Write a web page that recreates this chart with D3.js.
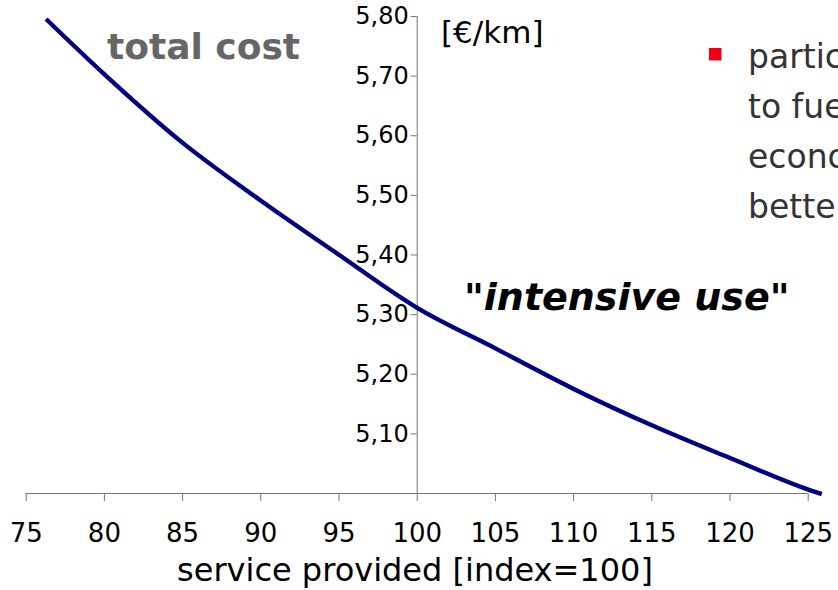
<!DOCTYPE html>
<html>
<head>
<meta charset="utf-8">
<script src="https://cdn.jsdelivr.net/npm/d3@7"></script>
<style>
  html, body { margin: 0; padding: 0; background: #fff; overflow: hidden; }
  svg { display: block; font-family: "DejaVu Sans", Verdana, sans-serif; }
</style>
</head>
<body>
<svg id="chart" width="838" height="590"></svg>
<script>
// ---- data ----
const serviceIndex = [76.3, 80, 85, 90, 95, 100, 105, 110, 115, 120, 125, 125.9];
const totalCost    = [5.795, 5.703, 5.588, 5.491, 5.400, 5.311, 5.243, 5.175, 5.114, 5.059, 5.006, 4.998];
const xTickValues  = [75, 80, 85, 90, 95, 100, 105, 110, 115, 120, 125];
const yTickValues  = [5.10, 5.20, 5.30, 5.40, 5.50, 5.60, 5.70, 5.80];
const seriesLabel  = "total cost";
const unitLabel    = "[€/km]";
const xTitle       = "service provided [index=100]";
const annotation   = "\"intensive use\"";
const bulletLines  = ["particularly", "to fuel", "economic", "better"];

const points = serviceIndex.map((x, i) => ({x, y: totalCost[i]}));

const svg = d3.select("#chart");

const x = d3.scaleLinear().domain([75, 125]).range([25.7, 807.7]);
const y = d3.scaleLinear().domain([5.0, 5.8]).range([493, 16]);

const axisColor = "#777";
const fmt = d3.format(".2f");

// x axis (at y = 5.00)
const gx = svg.append("g")
  .attr("transform", `translate(0,${y(5.0)})`)
  .call(d3.axisBottom(x).tickValues(xTickValues).tickSize(8).tickFormat(d3.format("d")));
gx.select(".domain").attr("stroke", axisColor).attr("d", `M${x(75)},0.5H${x(125)}`);
gx.selectAll(".tick line").attr("stroke", axisColor);
gx.selectAll(".tick text")
  .attr("fill", "#000")
  .attr("y", 49)
  .attr("dy", "0")
  .style("font-family", "'DejaVu Sans', Verdana, sans-serif")
  .style("font-size", "26px");

// y axis (crossing at x = 100)
const gy = svg.append("g")
  .attr("transform", `translate(${x(100)},0)`)
  .call(d3.axisLeft(y).tickValues(yTickValues).tickSize(6).tickPadding(2)
    .tickFormat(d => fmt(d).replace(".", ",")));
gy.select(".domain").attr("stroke", axisColor).attr("d", `M0.5,${y(5.8)}V${y(5.0)}`);
gy.selectAll(".tick line").attr("stroke", axisColor);
gy.selectAll(".tick text")
  .attr("fill", "#000")
  .style("font-family", "'DejaVu Sans', Verdana, sans-serif")
  .style("font-size", "24px");

// line
const line = d3.line().x(d => x(d.x)).y(d => y(d.y)).curve(d3.curveMonotoneX);
svg.append("path")
  .datum(points)
  .attr("fill", "none")
  .attr("stroke", "#000080")
  .attr("stroke-width", 4.4)
  .attr("d", line);

// labels
svg.append("text")
  .attr("x", 107).attr("y", 59)
  .attr("fill", "#666")
  .style("font-weight", "bold")
  .style("font-size", "36px")
  .text(seriesLabel);

svg.append("text")
  .attr("x", 441).attr("y", 43)
  .attr("fill", "#000")
  .style("font-size", "31px")
  .text(unitLabel);

svg.append("text")
  .attr("x", 464).attr("y", 310)
  .attr("fill", "#000")
  .style("font-weight", "bold")
  .style("font-style", "italic")
  .style("font-size", "38px")
  .text(annotation);

svg.append("text")
  .attr("x", 415).attr("y", 581)
  .attr("text-anchor", "middle")
  .attr("fill", "#000")
  .style("font-size", "32px")
  .text(xTitle);

// bullet
svg.append("rect")
  .attr("x", 709).attr("y", 48).attr("width", 12.5).attr("height", 12.5)
  .attr("fill", "#f00010");

svg.append("g").selectAll("text")
  .data(bulletLines)
  .join("text")
  .attr("x", 748)
  .attr("y", (d, i) => 68 + i * 50)
  .attr("fill", "#333")
  .style("font-size", "33px")
  .text(d => d);
</script>
</body>
</html>
